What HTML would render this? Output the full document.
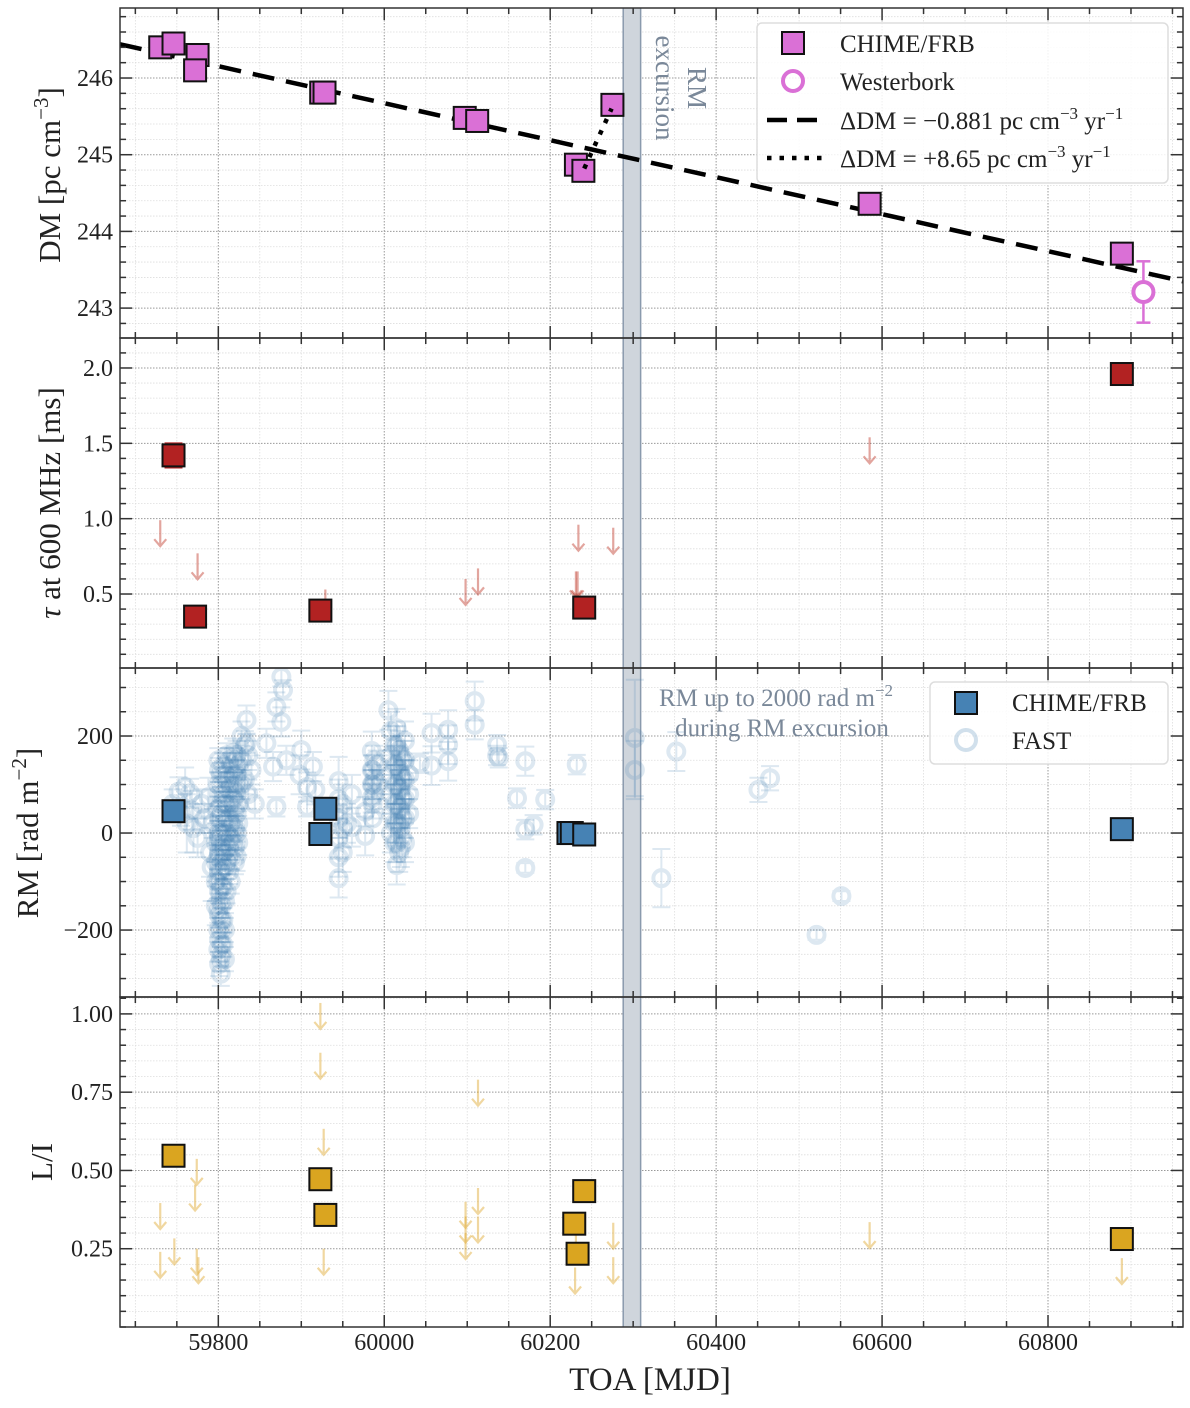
<!DOCTYPE html>
<html><head><meta charset="utf-8">
<style>
html,body{margin:0;padding:0;background:#fff;}
svg{display:block;font-family:"Liberation Serif","DejaVu Serif",serif;}
</style></head>
<body>
<svg id="fig" width="1190" height="1408" viewBox="0 0 1190 1408" xmlns="http://www.w3.org/2000/svg">
</svg>
<script>
// ---------------- data ----------------
const dmMjd = [59730, 59746, 59775, 59772, 59924, 59928, 60097, 60112, 60231, 60240, 60275, 60585, 60889];
const dmVal = [246.40, 246.45, 246.30, 246.10, 245.81, 245.81, 245.48, 245.44, 244.87, 244.79, 245.65, 244.36, 243.71];
const wsrtMjd = [60915];
const wsrtVal = [243.21];
const wsrtErr = [0.40];
const fitRefMjd = 59800;
const fitRefDm = 246.154;
const fitSlope = -0.881;   // pc cm^-3 / yr
const fit2Mjd = [60241, 60274];
const fit2Slope = 8.65;
const fit2RefDm = 244.82;

const tauMjd = [59746, 59772, 59923, 60241, 60889];
const tauVal = [1.42, 0.35, 0.39, 0.41, 1.96];
const tauErr = [0.08, 0, 0, 0, 0];
const tauLimMjd = [59730, 59775, 59929, 60098, 60113, 60234, 60231, 60233, 60276, 60585];
const tauLimVal = [0.99, 0.77, 0.53, 0.60, 0.67, 0.96, 0.65, 0.65, 0.94, 1.54];

const rmMjd = [59746, 59929, 59923, 60222, 60226, 60241, 60889];
const rmVal = [45, 50, -2, 0, 0, -3, 8];

const fastMjd = [
59745,59752,59755,59760,59762,59766,59768,59770,59775,59780,59783,59788,59790,59792,59793,
59797,59797,59797,59797,
59800,59800,59800,59800,59800,59800,59800,59800,59800,
59803,59803,59803,59803,59803,59803,59803,59803,
59806,59806,59806,59806,59806,59806,59806,
59810,59810,59810,59810,59810,59810,
59813,59813,59813,59813,59813,
59818,59818,59818,59818,59818,
59822,59822,59822,59822,59822,59822,
59828,59828,59828,59832,59832,59836,59836,59840,59844,
59834,59834,59858,59866,59870,59876,59878,59870,59876,59882,59900,59898,59907,59914,59917,59907,
59945,59945,59945,59945,59945,59945,59950,59950,59950,59955,59961,59961,59977,59977,
59985,59985,59985,59985,59988,59988,59988,59991,59991,
60005,60008,60008,60008,60008,60008,60008,
60015,60015,60015,60015,60015,60015,60015,60015,
60020,60020,60020,60020,60020,60020,
60025,60025,60025,60025,60025,60025,
60030,60030,60030,
60043,60057,60057,60077,60077,60077,60109,60109,60136,60136,60138,
60170,60160,60194,60170,60180,60170,60232,60302,60302,60352,60334,60451,60465,60551,60521,
59801,59801,59801,59801,59801,59801,59801,59801,59801,59801,
59804,59804,59804,59804,59804,59804,59804,59804,59804,59804,
59808,59808,59808,59808,59808,59808,59808,59808,
59815,59815,59815,59815,59815,59815,59815,
59820,59820,59820,59820,59820,59820,
59824,59824,59824,59824,59824,
60012,60012,60012,60012,60012,60012,
60018,60018,60018,60018,60018,60018,
60022,60022,60022,60022,60022,
59986,59986,59986,59986
];
const fastVal = [
60,85,40,95,20,82,47,10,-10,60,30,74,-40,-70,20,
-20,-60,-100,-150,
150,100,50,0,-50,-100,-160,-200,-240,
120,60,-20,-80,-140,-200,-260,-290,
140,80,20,-40,-110,-180,-230,
160,110,60,0,-60,-120,
150,90,30,-30,-80,
165,120,70,20,-20,
160,120,80,40,0,-48,
200,150,100,180,110,160,80,130,60,
233,185,185,137,54,322,295,260,229,150,171,120,95,137,89,54,
107,70,30,-10,-50,-93,60,10,-40,20,80,12,44,-6,
169,130,100,72,150,110,80,140,100,
253,210,160,120,80,40,0,
216,180,140,100,60,20,-20,-66,
160,120,90,50,10,-30,
190,150,110,70,30,-20,
120,80,40,
144,206,139,213,182,148,272,223,182,160,155,
148,72,69,7,17,-72,141,196,130,168,-93,89,113,-130,-210,
130,80,30,-10,-40,-80,-120,-170,-220,-270,
100,40,0,-30,-60,-110,-150,-180,-230,-250,
120,60,30,-20,-70,-140,-200,-260,
140,100,60,20,-10,-50,-100,
150,100,50,10,-30,-60,
140,100,60,20,-20,
180,140,100,60,20,-20,
170,130,90,50,20,-40,
150,110,70,30,-10,
130,100,60,30
];
const fastErr = [
30,30,25,40,60,30,40,50,40,30,30,40,50,70,30,
40,40,40,40,
25,25,25,25,25,25,25,25,25,
25,25,25,25,25,25,25,25,
25,25,25,25,25,25,25,
25,25,25,25,25,25,
25,25,25,25,25,
30,30,30,30,30,
30,30,30,30,30,30,
30,30,30,30,30,30,30,30,30,
30,20,30,30,20,20,20,30,30,30,40,40,30,30,30,20,
50,40,40,40,40,40,40,40,40,40,40,40,30,40,
40,30,30,30,30,30,30,30,30,
40,40,40,40,40,40,40,
40,40,40,40,40,40,40,40,
40,40,40,40,40,40,
40,40,40,40,40,40,
30,30,30,
20,40,40,40,40,40,40,30,20,20,20,
30,20,20,20,20,10,20,120,60,40,60,25,25,10,10,
25,25,25,25,25,25,25,25,25,25,
25,25,25,25,25,25,25,25,25,25,
25,25,25,25,25,25,25,25,
25,25,25,25,25,25,25,
25,25,25,25,25,25,
25,25,25,25,25,
40,40,40,40,40,40,
40,40,40,40,40,40,
40,40,40,40,40,
30,30,30,30
];

const liMjd = [59746, 59923, 59929, 60241, 60229, 60233, 60889];
const liVal = [0.547, 0.472, 0.358, 0.434, 0.330, 0.234, 0.281];
const liLimMjd = [59923,59923,60113,59927,59774,59772,59730,59730,59747,59774,59776,59927,60098,60098,60098,60113,60113,60230,60231,60276,60276,60585,60889];
const liLimVal = [1.035,0.876,0.79,0.633,0.537,0.455,0.396,0.24,0.283,0.25,0.223,0.25,0.40,0.353,0.30,0.444,0.353,0.19,0.30,0.333,0.223,0.335,0.22];

const xTicks = [59800, 60000, 60200, 60400, 60600, 60800];
const dmTicks = [243, 244, 245, 246];
const tauTicks = [0.5, 1.0, 1.5, 2.0];
const rmTicks = [-200, 0, 200];
const liTicks = [0.25, 0.50, 0.75, 1.00];
const bandMjd = [60288, 60309];

// ---------------- layout ----------------
const L = 120, R = 1183;
const X0 = 59681.5, X1 = 60962.7;
function sx(m){ return L + (m - X0) / (X1 - X0) * (R - L); }
const panels = [
  {name:'dm', top:8, bot:338, y0:242.61, y1:246.913},
  {name:'tau', top:338, bot:668, y0:0.009, y1:2.199},
  {name:'rm', top:668, bot:997, y0:-338, y1:340.2},
  {name:'li', top:997, bot:1327, y0:0.0, y1:1.054}
];
function mk(p){ return v => p.bot - (v - p.y0) / (p.y1 - p.y0) * (p.bot - p.top); }
const yDM = mk(panels[0]), yTau = mk(panels[1]), yRM = mk(panels[2]), yLI = mk(panels[3]);

const svg = document.getElementById('fig');
const NS = 'http://www.w3.org/2000/svg';
function el(tag, attrs, parent){
  const e = document.createElementNS(NS, tag);
  for (const k in attrs) e.setAttribute(k, attrs[k]);
  (parent || svg).appendChild(e);
  return e;
}

const defs = el('defs', {});
panels.forEach(p => {
  const cp = el('clipPath', {id:'clip-' + p.name}, defs);
  el('rect', {x:L, y:p.top, width:R-L, height:p.bot-p.top}, cp);
});

function grid(p, yfun, minorStep, majors){
  const g = el('g', {});
  
  
  for (let m = 59700; m <= X1; m += 50){
    const major = (m % 200 === 0);
    el('line', {x1:sx(m), x2:sx(m), y1:p.top, y2:p.bot, stroke: major ? '#999' : '#ddd', 'stroke-width': major?1:0.8, 'stroke-dasharray':'1.5,1.5'}, g);
  }
  const start = Math.ceil(p.y0 / minorStep) * minorStep;
  for (let v = start; v <= p.y1 + 1e-9; v += minorStep){
    const isMaj = majors.some(t => Math.abs(t - v) < 1e-6);
    el('line', {x1:L, x2:R, y1:yfun(v), y2:yfun(v), stroke: isMaj ? '#999' : '#ddd', 'stroke-width': isMaj?1:0.8, 'stroke-dasharray':'1.5,1.5'}, g);
  }
}
grid(panels[0], yDM, 0.2, dmTicks);
grid(panels[1], yTau, 0.1, tauTicks);
grid(panels[2], yRM, 50, rmTicks);
grid(panels[3], yLI, 0.05, liTicks);

const band = el('g', {});


el('rect', {x:sx(bandMjd[0]), y:8, width:sx(bandMjd[1])-sx(bandMjd[0]), height:1319, fill:'#cfd5dc'}, band);
el('line', {x1:sx(bandMjd[0]), x2:sx(bandMjd[0]), y1:8, y2:1327, stroke:'#8a9aad', 'stroke-width':1.5}, band);
el('line', {x1:sx(bandMjd[1]), x2:sx(bandMjd[1]), y1:8, y2:1327, stroke:'#8a9aad', 'stroke-width':1.5}, band);

function square(g, x, y, fill, s){
  s = s || 22;
  el('rect', {x:x-s/2, y:y-s/2, width:s, height:s, fill:fill, stroke:'#111', 'stroke-width':2}, g);
}
function arrow(g, x, y, color, len){
  len = len || 26;
  el('line', {x1:x, x2:x, y1:y, y2:y+len, stroke:color, 'stroke-width':2.2}, g);
  el('polyline', {points:(x-6)+','+(y+len-7)+' '+x+','+(y+len)+' '+(x+6)+','+(y+len-7), fill:'none', stroke:color, 'stroke-width':2.2}, g);
}

// ---- Panel 1: DM ----
const g1 = el('g', {'clip-path':'url(#clip-dm)'});


const dmAt = m => fitRefDm + fitSlope * (m - fitRefMjd) / 365.25;
const fitLine = el('line', {x1:sx(X0), y1:yDM(dmAt(X0)), x2:sx(X1), y2:yDM(dmAt(X1)), stroke:'#000', 'stroke-width':4.5, 'stroke-dasharray':'22,12'}, g1);


dmMjd.forEach((m, i) => {
  const s = el('g', {}, g1);
  
  
  square(s, sx(m), yDM(dmVal[i]), '#da70d6');
});
const f2 = m => fit2RefDm + fit2Slope * (m - fit2Mjd[0]) / 365.25;
const fit2 = el('line', {x1:sx(fit2Mjd[0]), y1:yDM(f2(fit2Mjd[0])), x2:sx(fit2Mjd[1]), y2:yDM(f2(fit2Mjd[1])), stroke:'#000', 'stroke-width':4.5, 'stroke-dasharray':'4.5,8'}, g1);


wsrtMjd.forEach((m, i) => {
  const w = el('g', {}, g1);
  
  
  const x = sx(m);
  el('line', {x1:x, x2:x, y1:yDM(wsrtVal[i]+wsrtErr[i]), y2:yDM(wsrtVal[i]-wsrtErr[i]), stroke:'#da70d6', 'stroke-width':2.5}, w);
  el('line', {x1:x-7, x2:x+7, y1:yDM(wsrtVal[i]+wsrtErr[i]), y2:yDM(wsrtVal[i]+wsrtErr[i]), stroke:'#da70d6', 'stroke-width':2.5}, w);
  el('line', {x1:x-7, x2:x+7, y1:yDM(wsrtVal[i]-wsrtErr[i]), y2:yDM(wsrtVal[i]-wsrtErr[i]), stroke:'#da70d6', 'stroke-width':2.5}, w);
  el('circle', {cx:x, cy:yDM(wsrtVal[i]), r:10, fill:'#fff', stroke:'#da70d6', 'stroke-width':4}, w);
});

// ---- Panel 2: tau ----
const g2 = el('g', {'clip-path':'url(#clip-tau)'});


tauLimMjd.forEach((m, i) => {
  const a = el('g', {opacity:0.45}, g2);
  
  
  arrow(a, sx(m), yTau(tauLimVal[i]), '#c0392b');
});
tauMjd.forEach((m, i) => {
  const s = el('g', {}, g2);
  
  
  const x = sx(m);
  if (tauErr[i] > 0){
    const yt = yTau(tauVal[i]+tauErr[i]), yb = yTau(tauVal[i]-tauErr[i]);
    el('line', {x1:x, x2:x, y1:yt, y2:yb, stroke:'#b22222', 'stroke-width':2}, s);
    el('line', {x1:x-9, x2:x+9, y1:yt, y2:yt, stroke:'#b22222', 'stroke-width':2}, s);
    el('line', {x1:x-9, x2:x+9, y1:yb, y2:yb, stroke:'#b22222', 'stroke-width':2}, s);
  }
  square(s, x, yTau(tauVal[i]), '#b22222');
});

// ---- Panel 3: RM ----
const g3 = el('g', {'clip-path':'url(#clip-rm)'});


fastMjd.forEach((m, i) => {
  const f = el('g', {opacity:0.18}, g3);
  
  
  const x = sx(m), yt = yRM(fastVal[i]+fastErr[i]), yb = yRM(fastVal[i]-fastErr[i]);
  el('line', {x1:x, x2:x, y1:yt, y2:yb, stroke:'#4682b4', 'stroke-width':2}, f);
  el('line', {x1:x-9, x2:x+9, y1:yt, y2:yt, stroke:'#4682b4', 'stroke-width':2}, f);
  el('line', {x1:x-9, x2:x+9, y1:yb, y2:yb, stroke:'#4682b4', 'stroke-width':2}, f);
  el('circle', {cx:x, cy:yRM(fastVal[i]), r:8, fill:'none', stroke:'#4682b4', 'stroke-width':4}, f);
});
rmMjd.forEach((m, i) => {
  const s = el('g', {}, g3);
  
  
  square(s, sx(m), yRM(rmVal[i]), '#4682b4');
});

// ---- Panel 4: L/I ----
const g4 = el('g', {'clip-path':'url(#clip-li)'});


liLimMjd.forEach((m, i) => {
  const a = el('g', {opacity:0.45}, g4);
  
  
  arrow(a, sx(m), yLI(liLimVal[i]), '#e0a82e');
});
liMjd.forEach((m, i) => {
  const s = el('g', {}, g4);
  
  
  square(s, sx(m), yLI(liVal[i]), '#daa520');
});

// ---- axes ----
function axes(p, yfun, minorStep, majors, fmt, last){
  const g = el('g', {});
  
  
  el('rect', {x:L, y:p.top, width:R-L, height:p.bot-p.top, fill:'none', stroke:'#333', 'stroke-width':1.5}, g);
  for (let m = 59700; m <= X1; m += 50){
    const major = (m % 200 === 0), len = major ? 12 : 6, x = sx(m);
    el('line', {x1:x, x2:x, y1:p.bot, y2:p.bot-len, stroke:'#333', 'stroke-width':1.5}, g);
    el('line', {x1:x, x2:x, y1:p.top, y2:p.top+len, stroke:'#333', 'stroke-width':1.5}, g);
  }
  const start = Math.ceil(p.y0 / minorStep) * minorStep;
  for (let v = start; v <= p.y1 + 1e-9; v += minorStep){
    const isMaj = majors.some(t => Math.abs(t - v) < 1e-6), len = isMaj ? 12 : 6, y = yfun(v);
    el('line', {x1:L, x2:L+len, y1:y, y2:y, stroke:'#333', 'stroke-width':1.5}, g);
    el('line', {x1:R, x2:R-len, y1:y, y2:y, stroke:'#333', 'stroke-width':1.5}, g);
  }
  majors.forEach(v => {
    const t = el('text', {x:113, y:yfun(v)+8, 'text-anchor':'end', 'font-size':24, fill:'#222'}, g);
    t.textContent = fmt(v);
    
    
  });
  if (last){
    xTicks.forEach(m => {
      const t = el('text', {x:sx(m), y:1350, 'text-anchor':'middle', 'font-size':24, fill:'#222'}, g);
      t.textContent = String(m);
      
      
    });
  }
}
axes(panels[0], yDM, 0.2, dmTicks, v => v.toFixed(0));
axes(panels[1], yTau, 0.1, tauTicks, v => v.toFixed(1));
axes(panels[2], yRM, 50, rmTicks, v => (v < 0 ? '\u2212' + Math.abs(v) : String(v)));
axes(panels[3], yLI, 0.05, liTicks, v => v.toFixed(2), true);
</script>

<svg style="position:absolute;left:0;top:0" width="1190" height="1408" xmlns="http://www.w3.org/2000/svg" font-family="Liberation Serif, DejaVu Serif, serif">
  <text x="650" y="1390" text-anchor="middle" font-size="33" fill="#222">TOA [MJD]</text>
  <text transform="translate(60,175) rotate(-90)" text-anchor="middle" font-size="31" fill="#222">DM [pc cm<tspan dy="-12" font-size="21">−3</tspan><tspan dy="12">]</tspan></text>
  <text transform="translate(60,503) rotate(-90)" text-anchor="middle" font-size="31" fill="#222"><tspan font-style="italic">τ</tspan> at 600 MHz [ms]</text>
  <text transform="translate(38,833) rotate(-90)" text-anchor="middle" font-size="31" fill="#222">RM [rad m<tspan dy="-12" font-size="21">−2</tspan><tspan dy="12">]</tspan></text>
  <text transform="translate(52,1162) rotate(-90)" text-anchor="middle" font-size="31" fill="#222">L/I</text>

  <g fill="#7a8899" font-size="27">
    <text transform="translate(688,88) rotate(90)" text-anchor="middle">RM</text>
    <text transform="translate(656,88) rotate(90)" text-anchor="middle">excursion</text>
  </g>

  <g fill="#7a8899" font-size="25" text-anchor="middle">
    <text x="776" y="706">RM up to 2000 rad m<tspan dy="-10" font-size="17">−2</tspan></text>
    <text x="782" y="736">during RM excursion</text>
  </g>

  <g>
    <rect x="757" y="23" width="411" height="160" rx="5" fill="#fff" fill-opacity="0.85" stroke="#ddd" stroke-width="1.5"/>
    <rect x="782" y="32" width="22" height="22" fill="#da70d6" stroke="#111" stroke-width="2"/>
    <text x="840" y="52" font-size="25" fill="#222">CHIME/FRB</text>
    <circle cx="793" cy="81" r="10" fill="none" stroke="#da70d6" stroke-width="4"/>
    <text x="840" y="90" font-size="25" fill="#222">Westerbork</text>
    <line x1="767" x2="820" y1="120" y2="120" stroke="#000" stroke-width="4.5" stroke-dasharray="20,10"/>
    <text x="840" y="129" font-size="25" fill="#222">ΔDM = −0.881 pc cm<tspan dy="-10" font-size="17">−3</tspan><tspan dy="10"> yr</tspan><tspan dy="-10" font-size="17">−1</tspan></text>
    <line x1="767" x2="822" y1="158" y2="158" stroke="#000" stroke-width="4.5" stroke-dasharray="4.5,8"/>
    <text x="840" y="167" font-size="25" fill="#222">ΔDM = +8.65 pc cm<tspan dy="-10" font-size="17">−3</tspan><tspan dy="10"> yr</tspan><tspan dy="-10" font-size="17">−1</tspan></text>
  </g>

  <g>
    <rect x="930" y="682" width="238" height="82" rx="5" fill="#fff" fill-opacity="0.85" stroke="#ddd" stroke-width="1.5"/>
    <rect x="955" y="692" width="22" height="22" fill="#4682b4" stroke="#111" stroke-width="2"/>
    <text x="1012" y="711" font-size="25" fill="#222">CHIME/FRB</text>
    <circle cx="966" cy="740" r="10" fill="none" stroke="#4682b4" stroke-opacity="0.25" stroke-width="4"/>
    <text x="1012" y="749" font-size="25" fill="#222">FAST</text>
  </g>
</svg>
</body></html>
